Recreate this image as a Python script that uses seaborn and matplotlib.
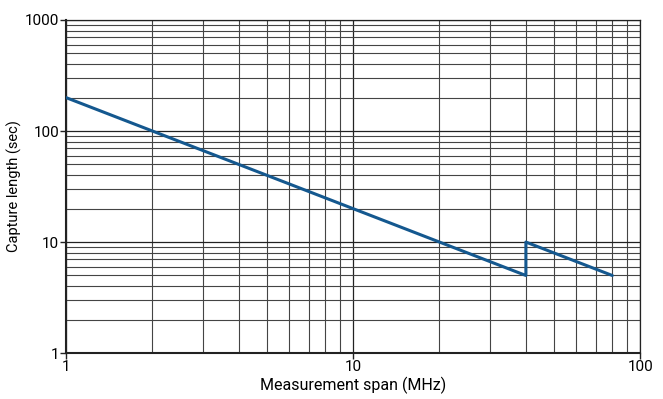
import matplotlib
matplotlib.use("Agg")
import matplotlib.pyplot as plt
import seaborn as sns
import pandas as pd
from matplotlib.ticker import LogLocator, FixedLocator, FixedFormatter, NullFormatter

# data
span_mhz = [1, 40, 40, 80]
capture_sec = [200, 5, 10, 5]

x_ticks = [1, 10, 100]
x_tick_labels = ["1", "10", "100"]
y_ticks = [1, 10, 100, 1000]
y_tick_labels = ["1", "10", "100", "1000"]

sns.set_style("white")
plt.rcParams['font.family'] = ['Roboto', 'DejaVu Sans']

df = pd.DataFrame({"span": span_mhz, "capture": capture_sec})

fig = plt.figure(figsize=(6.63, 3.99), dpi=100)
ax = fig.add_axes([0.0995, 0.115, 0.866, 0.835])

ax.set_xscale("log")
ax.set_yscale("log")
sns.lineplot(data=df, x="span", y="capture", sort=False, estimator=None,
             color="#14588f", linewidth=2.2, ax=ax, zorder=5)

ax.set_xlim(1, 100)
ax.set_ylim(1, 1000)

ax.xaxis.set_major_locator(FixedLocator(x_ticks))
ax.xaxis.set_major_formatter(FixedFormatter(x_tick_labels))
ax.yaxis.set_major_locator(FixedLocator(y_ticks))
ax.yaxis.set_major_formatter(FixedFormatter(y_tick_labels))
ax.xaxis.set_minor_locator(LogLocator(base=10, subs=range(2, 10)))
ax.yaxis.set_minor_locator(LogLocator(base=10, subs=range(2, 10)))
ax.xaxis.set_minor_formatter(NullFormatter())
ax.yaxis.set_minor_formatter(NullFormatter())

ax.grid(True, which="major", color="#222222", linewidth=0.9)
ax.grid(True, which="minor", color="#444444", linewidth=0.8)

ax.tick_params(which="major", direction="out", length=4, width=1, color="#222222",
               labelsize=11, labelcolor="black", pad=1, bottom=True, left=True)
ax.tick_params(which="minor", length=0)

for side in ["left", "bottom"]:
    ax.spines[side].set_color("#222222")
    ax.spines[side].set_linewidth(1.5)
for side in ["top", "right"]:
    ax.spines[side].set_color("#222222")
    ax.spines[side].set_linewidth(0.9)

ax.set_xlabel("Measurement span (MHz)", fontsize=11.5, color="black", labelpad=2)
ax.set_ylabel("Capture length (sec)", fontsize=10.5, color="black", labelpad=2)

fig.savefig("out.png", dpi=100)
